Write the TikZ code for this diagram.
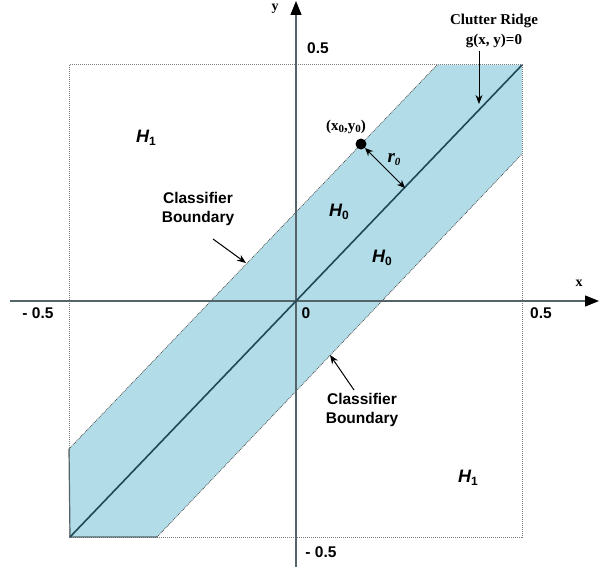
\documentclass[tikz,border=0pt]{standalone}
\usepackage{fontspec}
\setmainfont{Liberation Serif}
\setsansfont{Liberation Sans}
\usetikzlibrary{arrows.meta}
\definecolor{bandblue}{RGB}{178,221,232}
\definecolor{ridge}{RGB}{32,72,88}
\definecolor{axisgray}{RGB}{85,100,105}
\definecolor{boxgray}{RGB}{125,125,125}
\newcommand{\lowsub}[1]{\raisebox{-0.35ex}{\fontsize{11}{11}\selectfont #1}}
\newcommand{\hsub}[1]{\raisebox{-0.3ex}{\fontsize{12}{12}\selectfont\upshape #1}}
\begin{document}
\begin{tikzpicture}[x=1pt,y=-1pt,
  sanslab/.style={font=\sffamily\bfseries\fontsize{15.5}{19.5}\selectfont, inner sep=0pt, align=center},
  seriflab/.style={font=\bfseries\fontsize{15}{20}\selectfont, inner sep=0pt, align=center},
  hlab/.style={font=\sffamily\bfseries\itshape\fontsize{18}{20}\selectfont, inner sep=0pt},
  pointer/.style={-{Stealth[length=9pt,width=7pt]}, line width=1pt, black},
  axisline/.style={axisgray, line width=1.3pt, -{Triangle[length=14pt,width=11pt,fill=black,color=black]}},
  boxline/.style={boxgray, line width=1pt, densely dotted},
  bandedge/.style={black!70, line width=0.8pt, densely dotted}]
\useasboundingbox (0,0) rectangle (599,567);
% key points
\coordinate (BL) at (70,537);
\coordinate (TR) at (522,65);
\coordinate (TL) at (69,65);
\coordinate (BR) at (522,537);
\coordinate (UL) at (69,449);
\coordinate (UT) at (437,65);
\coordinate (LB) at (157,537);
\coordinate (LR) at (522,154);
\coordinate (O) at (296,301);
% band
\fill[bandblue] (BL) -- (LB) -- (LR) -- (TR) -- (UT) -- (UL) -- cycle;
% bounding square
\draw[boxline] (TL) rectangle (BR);
% band boundaries
\draw[bandedge] (UL) -- (UT);
\draw[bandedge] (LB) -- (LR);
\draw[axisgray, line width=1.2pt] (UL) -- (BL) -- (LB);
% axes
\coordinate (xs) at (10,301);
\coordinate (xe) at (599,301);
\coordinate (ys) at (296,567);
\coordinate (ye) at (296,1);
\draw[axisline] (xs) -- (xe);
\draw[axisline] (ys) -- (ye);
% clutter ridge
\draw[ridge, line width=1.6pt] (BL) -- (TR);
% axis labels
\node[seriflab, font=\bfseries\fontsize{14}{15}\selectfont] (ylab) at (275,9) {y};
\node[seriflab, font=\bfseries\fontsize{14}{15}\selectfont] (xlab) at (579,283) {x};
\node[sanslab] (ytop) at (318,48) {0.5};
\node[sanslab] (ybot) at (321,552) {- 0.5};
\node[sanslab] (xleft) at (38,313) {- 0.5};
\node[sanslab] (xright) at (541,313) {0.5};
\node[sanslab] (zero) at (306,313) {0};
% region labels
\node[hlab] (h1a) at (146,138) {H\hsub{1}};
\node[hlab] (h0a) at (339,212) {H\hsub{0}};
\node[hlab] (h0b) at (382,258) {H\hsub{0}};
\node[hlab] (h1b) at (468,478) {H\hsub{1}};
% clutter ridge label
\node[seriflab] (cr) at (494,31) {Clutter Ridge\\g(x, y)=0};
\coordinate (crtip) at (479,104);
\draw[pointer] (479,51) -- (crtip);
% point
\node[circle, fill=black, inner sep=0pt, minimum size=11pt] (pt) at (361,144) {};
\node[seriflab, font=\bfseries\fontsize{15}{16}\selectfont] (ptlab) at (346,127) {(x\lowsub{0},y\lowsub{0})};
\coordinate (rend) at (405,188);
\draw[{Stealth[length=8pt,width=7pt]}-{Stealth[length=8pt,width=7pt]}, line width=1pt] (pt) -- (rend);
\node[seriflab, font=\bfseries\itshape\fontsize{19}{20}\selectfont] (rlab) at (394,160) {r\lowsub{0}};
% classifier boundary labels
\node[sanslab] (cb1) at (198,209) {Classifier\\Boundary};
\coordinate (cb1tip) at (246,263);
\draw[pointer] (213,239) -- (cb1tip);
\node[sanslab] (cb2) at (362,410) {Classifier\\Boundary};
\coordinate (cb2tip) at (330,355);
\draw[pointer] (354,390) -- (cb2tip);
\end{tikzpicture}
\end{document}
